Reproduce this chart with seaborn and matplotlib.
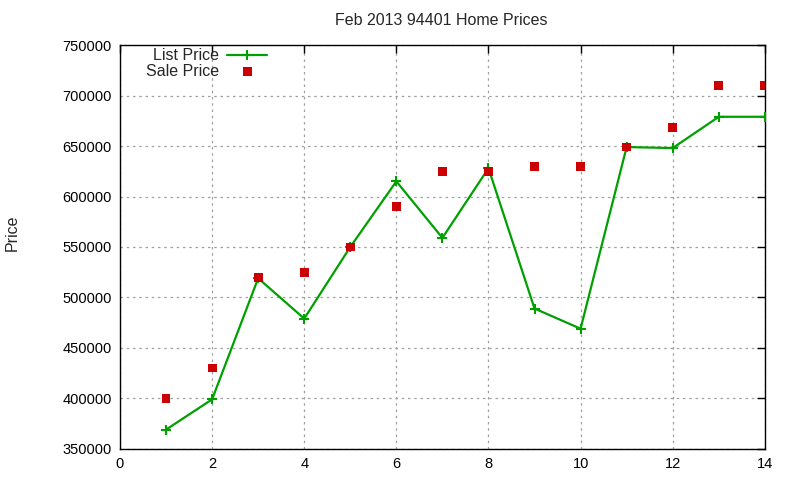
import matplotlib
matplotlib.use("Agg")
import matplotlib.pyplot as plt
import pandas as pd
import seaborn as sns

# values
WEEKS = [1, 2, 3, 4, 5, 6, 7, 8, 9, 10, 11, 12, 13, 14]
LIST_PRICE = [369000, 399000, 519000, 479000, 550000, 615000, 559000,
              628000, 489000, 469000, 649000, 648000, 679000, 679000]
SALE_PRICE = [400000, 430000, 520000, 525000, 550000, 590000, 625000,
              625000, 630000, 630000, 649000, 668000, 710000, 710000]
X_TICKS = [0, 2, 4, 6, 8, 10, 12, 14]
Y_TICKS = [350000, 400000, 450000, 500000, 550000, 600000, 650000, 700000, 750000]

df = pd.DataFrame({"x": WEEKS, "list": LIST_PRICE, "sale": SALE_PRICE})

sns.set_style("white")
plt.rcParams["font.family"] = ["Liberation Sans", "DejaVu Sans"]

fig = plt.figure(figsize=(8, 4.8), dpi=100)
ax = fig.add_axes([0.15, 0.065, 0.806, 0.841])

green = "#00a000"
sns.lineplot(data=df, x="x", y="list", ax=ax, color=green, linewidth=1.6,
             marker="+", markersize=7, markeredgewidth=1.5, markeredgecolor=green,
             label="List Price", zorder=3)
sns.scatterplot(data=df, x="x", y="sale", ax=ax, color="#cc0000", marker="s", s=40,
                edgecolor="none", label="Sale Price", zorder=4)

ax.set_xlim(0, 14)
ax.set_ylim(350000, 750000)
ax.set_xticks(X_TICKS)
ax.set_yticks(Y_TICKS)
ax.grid(True, color="#a0a0a0", linestyle=(0, (2, 3)), linewidth=0.9)
ax.tick_params(direction="in", length=6, width=1, top=True, right=True,
               labelsize=10.5, colors="black", pad=6)
for s in ax.spines.values():
    s.set_color("black"); s.set_linewidth(1)
ax.set_xlabel("")
ax.set_ylabel("")
fig.text(0.015, 0.515, "Price", rotation=90, ha="center", va="center", fontsize=11.5)
fig.text(0.551, 0.958, "Feb 2013 94401 Home Prices", ha="center", va="center", fontsize=11.5)

ax.legend(loc="upper left", bbox_to_anchor=(0.028, 1.012), frameon=False, markerfirst=False,
          fontsize=11.5, handlelength=2.5, labelspacing=0.05, borderaxespad=0.1,
          handletextpad=0.5)

fig.savefig("out.png", dpi=100)
